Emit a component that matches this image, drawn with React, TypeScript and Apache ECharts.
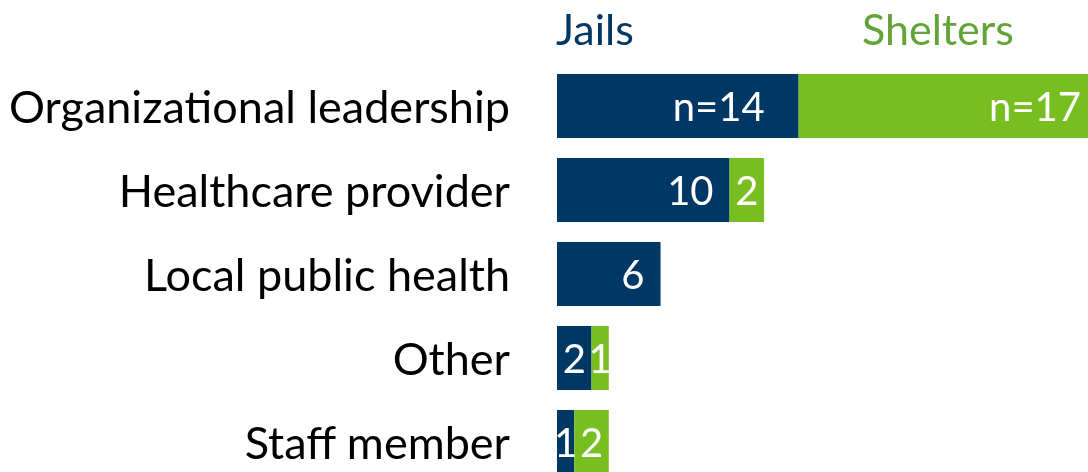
import React, { useEffect, useRef } from "react";
import * as echarts from "echarts";

const categories = [
  "Organizational leadership",
  "Healthcare provider",
  "Local public health",
  "Other",
  "Staff member",
];
const jails = [14, 10, 6, 2, 1];
const shelters = [17, 2, 0, 1, 2];
const seriesNames = ["Jails", "Shelters"];

const DARK = "#003865";
const GREEN = "#78BE21";
const GREEN_TEXT = "#62A33A";
const FONT = "Lato, 'Open Sans', sans-serif";

export default function App() {
  const ref = useRef<HTMLDivElement>(null);
  useEffect(() => {
    if (!ref.current) return;
    const chart = echarts.init(ref.current, null, { renderer: "svg" });

    const mkData = (vals: number[], first: boolean) =>
      vals.map((v, i) => {
        const wide = v >= 6;
        return {
          value: v,
          label: {
            show: v > 0,
            position: wide ? "insideRight" : "inside",
            distance: i === 0 ? (first ? 34 : 11) : 16,
            formatter: () => (i === 0 ? `n=${v}` : `${v}`),
          },
        };
      });

    chart.setOption({
      animation: false,
      grid: { left: 557, width: 535, top: 64, height: 420, containLabel: false },
      xAxis: {
        type: "value",
        min: 0,
        max: 31,
        show: false,
      },
      yAxis: {
        type: "category",
        data: categories,
        inverse: true,
        axisLine: { show: false },
        axisTick: { show: false },
        axisLabel: {
          margin: 47,
          fontSize: 45,
          color: "#000000",
          fontFamily: FONT,
        },
      },
      graphic: [
        {
          type: "text",
          left: 556,
          top: 7,
          style: { text: seriesNames[0], font: `43px ${FONT}`, fill: DARK },
        },
        {
          type: "text",
          left: 862,
          top: 7,
          style: { text: seriesNames[1], font: `43px ${FONT}`, fill: GREEN_TEXT },
        },
      ],
      series: [
        {
          name: seriesNames[0],
          type: "bar",
          stack: "total",
          barWidth: 64,
          itemStyle: { color: DARK },
          label: { color: "#ffffff", fontSize: 40, fontFamily: FONT },
          data: mkData(jails, true),
        },
        {
          name: seriesNames[1],
          type: "bar",
          stack: "total",
          barWidth: 64,
          itemStyle: { color: GREEN },
          label: { color: "#ffffff", fontSize: 40, fontFamily: FONT },
          data: mkData(shelters, false),
        },
      ],
    });
    return () => chart.dispose();
  }, []);
  return (
    <div
      style={{
        position: "fixed",
        left: 0,
        top: 0,
        width: 1088,
        height: 472,
        overflow: "hidden",
      }}
    >
      <div ref={ref} style={{ width: 1100, height: 500 }} />
    </div>
  );
}
